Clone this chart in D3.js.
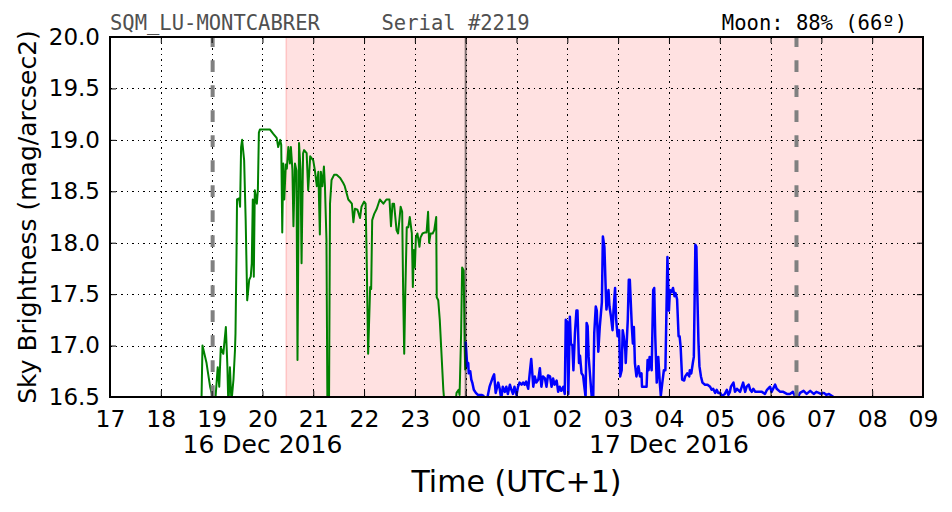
<!DOCTYPE html>
<html><head><meta charset="utf-8">
<script src="https://cdn.jsdelivr.net/npm/d3@7/dist/d3.min.js"></script>
<style>body{margin:0;background:#fff}svg{display:block}</style>
</head><body><svg id="c" width="952" height="512"></svg>
<script>
// ---- data (hours since 16 Dec 2016 00:00, UTC+1) ----
const hourTicks = [17,18,19,20,21,22,23,24,25,26,27,28,29,30,31,32,33];
const hourLabels = ["17","18","19","20","21","22","23","00","01","02","03","04","05","06","07","08","09"];
const dateLabelHours = [20, 28];
const dateLabels = ["16 Dec 2016", "17 Dec 2016"];
const magTicks = [16.5,17.0,17.5,18.0,18.5,19.0,19.5,20.0];
const moonSpan = [20.47, 33];
const dashedMarkHours = [19.02, 30.51];
const midnightHour = 24;
const titleLeft = "SQM_LU-MONTCABRER     Serial #2219";
const titleRight = "Moon: 88% (66º)";

const greenTime = [18.80,18.82,18.90,18.93,18.97,19.00,19.03,19.07,19.12,19.15,
19.18,19.23,19.28,19.31,19.33,19.36,19.39,19.43,19.46,19.47,
19.49,19.50,19.54,19.56,19.58,19.60,19.64,19.67,19.70,19.74,
19.77,19.79,19.81,19.83,19.85,19.89,19.91,19.93,19.95,20.05,
20.15,20.21,20.28,20.31,20.35,20.37,20.39,20.41,20.43,20.46,
20.48,20.51,20.54,20.56,20.59,20.61,20.64,20.67,20.69,20.72,
20.75,20.77,20.80,20.82,20.87,20.90,20.94,21.00,21.03,21.07,
21.10,21.13,21.15,21.18,21.21,21.23,21.26,21.28,21.31,21.33,
21.36,21.41,21.46,21.53,21.59,21.62,21.69,21.76,21.79,21.82,
21.87,21.92,21.95,22.00,22.03,22.05,22.08,22.12,22.14,22.16,
22.20,22.25,22.31,22.38,22.44,22.50,22.53,22.56,22.59,22.64,
22.67,22.72,22.75,22.77,22.79,22.81,22.84,22.87,22.90,22.94,
22.96,22.98,23.00,23.02,23.05,23.09,23.11,23.15,23.20,23.23,
23.26,23.28,23.31,23.35,23.38,23.42,23.43,23.46,23.49,23.53,
23.56,23.59,23.79,23.82,23.86,23.88,23.91,23.93,23.96,23.98,23.99];
const greenMag = [16.45,17.00,16.83,16.73,16.60,16.54,16.40,16.45,16.79,16.60,
16.98,16.92,17.18,16.80,16.40,16.79,16.45,16.67,16.96,17.12,
17.90,18.42,18.43,18.35,18.93,19.00,18.80,18.22,17.44,17.64,
17.67,17.80,18.42,17.67,18.51,18.38,18.51,19.07,19.10,19.10,
19.10,19.06,19.02,18.93,19.00,18.95,18.10,18.77,18.42,18.76,
18.72,18.93,18.77,18.93,18.71,18.16,18.77,18.70,16.86,18.97,
18.71,17.80,18.87,18.90,18.87,18.51,18.84,18.80,18.71,18.55,
18.69,18.08,18.69,18.55,18.74,18.55,18.03,16.30,16.40,18.38,
18.61,18.66,18.66,18.63,18.58,18.55,18.42,18.38,18.20,18.33,
18.32,18.24,18.35,18.40,18.38,17.90,16.92,17.57,17.55,18.22,
18.28,18.33,18.42,18.38,18.42,18.42,18.16,18.38,18.38,18.12,
18.09,18.35,18.30,17.49,16.92,17.47,18.15,18.15,18.25,18.09,
17.57,17.93,17.76,18.05,18.09,17.96,18.05,18.09,18.10,18.10,
18.30,18.00,18.09,18.09,18.12,18.25,17.47,17.44,17.25,16.86,
16.57,16.40,16.40,16.54,16.57,16.52,17.12,17.76,17.73,16.99,16.76];

const blueTime = [24.00,24.01,24.03,24.05,24.06,24.09,24.11,24.13,24.16,24.20,
24.24,24.31,24.35,24.41,24.47,24.54,24.56,24.59,24.64,24.67,
24.70,24.73,24.77,24.80,24.83,24.87,24.90,24.93,24.96,25.00,
25.03,25.06,25.10,25.13,25.16,25.19,25.23,25.26,25.29,25.33,
25.36,25.39,25.43,25.46,25.49,25.52,25.56,25.59,25.62,25.66,
25.69,25.72,25.75,25.79,25.82,25.85,25.88,25.92,25.95,25.97,
26.00,26.02,26.05,26.07,26.10,26.12,26.15,26.18,26.20,26.23,
26.25,26.28,26.31,26.33,26.36,26.38,26.40,26.42,26.44,26.48,
26.51,26.53,26.56,26.58,26.61,26.64,26.68,26.70,26.73,26.76,
26.77,26.81,26.83,26.86,26.89,26.91,26.94,26.96,26.99,27.02,
27.04,27.07,27.09,27.11,27.14,27.15,27.19,27.21,27.23,27.27,
27.29,27.31,27.33,27.36,27.40,27.43,27.46,27.47,27.51,27.56,
27.58,27.60,27.62,27.66,27.69,27.71,27.73,27.76,27.79,27.82,
27.84,27.87,27.90,27.93,27.95,27.97,28.00,28.02,28.05,28.08,
28.11,28.13,28.16,28.19,28.21,28.23,28.26,28.30,28.32,28.36,
28.40,28.41,28.44,28.47,28.49,28.52,28.54,28.56,28.58,28.60,
28.63,28.66,28.71,28.76,28.81,28.84,28.87,28.91,28.94,28.97,
29.01,29.04,29.10,29.14,29.17,29.20,29.22,29.27,29.30,29.34,
29.40,29.46,29.50,29.53,29.57,29.60,29.63,29.66,29.70,29.76,
29.83,29.89,29.93,29.99,30.02,30.09,30.12,30.19,30.25,30.32,
30.38,30.44,30.48,30.55,30.58,30.65,30.71,30.78,30.85,30.90,
30.95,30.99,31.05,31.10,31.15,31.18,31.24];
const blueMag = [17.04,16.96,16.80,16.83,16.73,16.75,16.67,16.64,16.57,16.54,
16.52,16.52,16.51,16.45,16.60,16.70,16.72,16.54,16.64,16.58,
16.48,16.60,16.55,16.60,16.53,16.62,16.57,16.53,16.60,16.52,
16.60,16.64,16.62,16.64,16.62,16.65,16.58,16.73,16.87,16.60,
16.70,16.64,16.67,16.78,16.60,16.70,16.68,16.60,16.71,16.70,
16.60,16.68,16.62,16.66,16.55,16.60,16.56,16.60,16.53,17.25,
17.23,16.53,17.28,17.02,17.00,16.76,17.12,17.34,17.34,16.83,
16.90,16.73,16.71,16.62,16.50,17.22,17.19,16.89,16.76,16.50,
16.50,17.12,17.38,17.34,16.94,17.19,17.42,18.06,17.96,17.48,
17.35,17.54,17.38,17.28,17.15,17.35,17.56,17.26,17.09,17.15,
16.70,16.76,17.15,17.09,16.96,16.83,17.25,17.64,17.64,17.18,
17.02,17.18,16.83,16.70,16.80,16.70,16.73,16.60,16.60,16.60,
16.86,16.76,16.89,16.76,17.54,17.56,17.10,16.64,16.89,16.64,
16.51,16.64,16.76,16.76,17.31,17.86,17.34,17.54,17.52,17.56,
17.48,17.51,17.45,17.09,17.09,16.99,16.67,16.66,16.70,16.73,
16.70,16.76,16.73,16.83,16.89,17.98,17.96,17.48,17.05,16.80,
16.70,16.64,16.62,16.62,16.60,16.57,16.58,16.54,16.57,16.54,
16.54,16.51,16.53,16.57,16.52,16.55,16.60,16.64,16.55,16.58,
16.55,16.64,16.55,16.60,16.62,16.57,16.55,16.58,16.55,16.55,
16.55,16.53,16.57,16.60,16.55,16.62,16.58,16.55,16.55,16.53,
16.53,16.55,16.51,16.51,16.54,16.56,16.53,16.56,16.53,16.55,
16.54,16.53,16.54,16.52,16.53,16.52,16.50];

// ---- layout ----
const svg = d3.select("#c");
const L = 110, R = 923, T = 37, B = 397;
const x = d3.scaleLinear().domain([17, 33]).range([L, R]);
const y = d3.scaleLinear().domain([16.5, 20]).range([B, T]);
const FONT = "DejaVu Sans, sans-serif";

svg.append("defs").append("clipPath").attr("id", "clip")
  .append("rect").attr("x", L).attr("y", T).attr("width", R - L).attr("height", B - T);

// moon-up shaded span
svg.append("rect")
  .attr("x", x(moonSpan[0])).attr("y", T)
  .attr("width", x(moonSpan[1]) - x(moonSpan[0])).attr("height", B - T)
  .attr("fill", "#ffe1e1");
svg.append("line")
  .attr("x1", x(moonSpan[0])).attr("x2", x(moonSpan[0]))
  .attr("y1", T).attr("y2", B)
  .attr("stroke", "#ffc4c4").attr("stroke-width", 1.5);

// grid
const grid = svg.append("g").attr("shape-rendering", "crispEdges");
grid.selectAll("line.v").data(hourTicks.slice(1, -1)).join("line")
  .attr("x1", d => Math.round(x(d)) + 0.5).attr("x2", d => Math.round(x(d)) + 0.5)
  .attr("y1", T).attr("y2", B)
  .attr("stroke", "#000").attr("stroke-width", 1).attr("stroke-dasharray", "1.5,4");
grid.selectAll("line.h").data(magTicks.slice(1, -1)).join("line")
  .attr("y1", d => Math.round(y(d)) + 0.5).attr("y2", d => Math.round(y(d)) + 0.5)
  .attr("x1", L).attr("x2", R)
  .attr("stroke", "#000").attr("stroke-width", 1).attr("stroke-dasharray", "1.5,4");

// data lines
const line = d3.line().x(d => x(d[0])).y(d => y(d[1]));
const plot = svg.append("g").attr("clip-path", "url(#clip)");
plot.append("path").datum(d3.zip(greenTime, greenMag))
  .attr("d", line).attr("fill", "none").attr("stroke", "#008000")
  .attr("stroke-width", 2).attr("stroke-linejoin", "round");
plot.append("path").datum(d3.zip(blueTime, blueMag))
  .attr("d", line).attr("fill", "none").attr("stroke", "#0000ff")
  .attr("stroke-width", 2.5).attr("stroke-linejoin", "round");

// vertical markers
plot.append("line")
  .attr("x1", x(midnightHour)).attr("x2", x(midnightHour)).attr("y1", T).attr("y2", B)
  .attr("stroke", "#000").attr("stroke-opacity", 0.5).attr("stroke-width", 2);
plot.selectAll("line.dm").data(dashedMarkHours).join("line")
  .attr("x1", d => x(d)).attr("x2", d => x(d)).attr("y1", B).attr("y2", T)
  .attr("stroke", "#808080").attr("stroke-width", 4).attr("stroke-dasharray", "11.7,13.3");

// frame
svg.append("rect").attr("x", L).attr("y", T).attr("width", R - L).attr("height", B - T)
  .attr("fill", "none").attr("stroke", "#000").attr("stroke-width", 2);

// axes (inward ticks)
const xb = d3.axisBottom(x).tickValues(hourTicks).tickSize(-6).tickPadding(13)
  .tickFormat((d, i) => hourLabels[i]);
const gx = svg.append("g").attr("transform", `translate(0,${B})`).call(xb);
const xt = d3.axisTop(x).tickValues(hourTicks).tickSize(-6).tickFormat("");
svg.append("g").attr("transform", `translate(0,${T})`).call(xt);
const yl = d3.axisLeft(y).tickValues(magTicks).tickSize(-6).tickPadding(10)
  .tickFormat(d3.format(".1f"));
const gy = svg.append("g").attr("transform", `translate(${L},0)`).call(yl);
const yr = d3.axisRight(y).tickValues(magTicks).tickSize(-6).tickFormat("");
svg.append("g").attr("transform", `translate(${R},0)`).call(yr);
svg.selectAll(".domain").remove();
svg.selectAll(".tick line").attr("stroke", "#000").attr("stroke-width", 1);
gx.selectAll("text").attr("font-family", FONT).attr("font-size", 23.5).attr("fill", "#000");
gy.selectAll("text").attr("font-family", FONT).attr("font-size", 23).attr("fill", "#000");

// date labels
svg.selectAll("text.date").data(dateLabels).join("text")
  .attr("x", (d, i) => x(dateLabelHours[i])).attr("y", 453)
  .attr("text-anchor", "middle").attr("font-family", FONT).attr("font-size", 25)
  .text(d => d);

// axis titles
svg.append("text").attr("x", (L + R) / 2).attr("y", 492).attr("text-anchor", "middle")
  .attr("font-family", FONT).attr("font-size", 30).text("Time (UTC+1)");
svg.append("text").attr("transform", `translate(36,${(T + B) / 2}) rotate(-90)`)
  .attr("text-anchor", "middle").attr("font-family", FONT).attr("font-size", 25)
  .text("Sky Brightness (mag/arcsec2)");

// header texts
svg.append("text").attr("x", L).attr("y", 30).attr("xml:space", "preserve")
  .style("white-space", "pre")
  .attr("font-family", "DejaVu Sans Mono, monospace").attr("font-size", 20.5)
  .attr("fill", "#505050").text(titleLeft);
svg.append("text").attr("x", 907).attr("y", 30).attr("text-anchor", "end")
  .attr("font-family", "DejaVu Sans Mono, monospace").attr("font-size", 20.5)
  .attr("fill", "#000").text(titleRight);
</script></body></html>
